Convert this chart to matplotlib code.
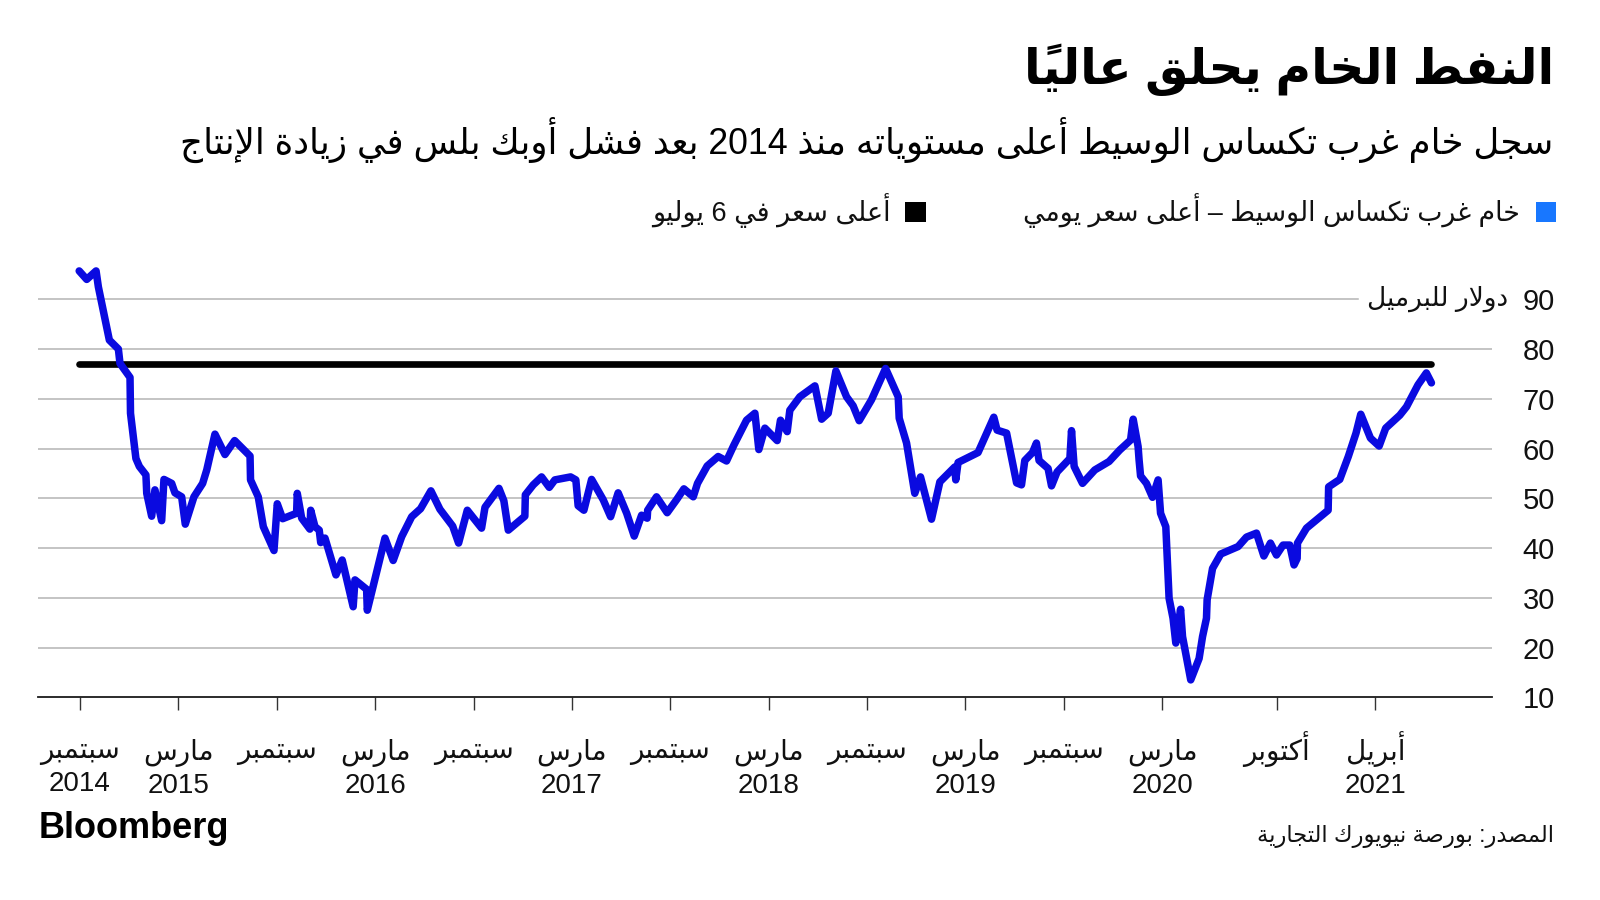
import numpy as np
import matplotlib
matplotlib.use("Agg")
import matplotlib.pyplot as plt
from matplotlib.patches import Rectangle
from matplotlib.transforms import ScaledTranslation

# ---------------- data (months since 1 Sep 2014, WTI daily high $/bbl) ----------------
months = [-0.05, 0.41, 0.98, 1.12, 1.79, 2.34, 2.44, 3.05, 3.08, 3.41, 3.62, 4.02, 4.07, 4.37, 4.57,
          4.98, 5.12, 5.59, 5.79, 6.20, 6.42, 6.95, 7.48, 7.73, 8.23, 8.84, 9.43, 10.37, 10.40, 10.87,
          11.18, 11.83, 12.03, 12.36, 13.21, 13.25, 13.52, 14.02, 14.07, 14.33, 14.59, 14.68, 14.94,
          15.61, 15.99, 16.66, 16.77, 17.48, 17.52, 18.60, 19.10, 19.62, 20.23, 20.77, 21.40, 21.95,
          22.73, 23.09, 23.62, 24.49, 24.70, 25.55, 25.85, 26.12, 27.13, 27.16, 27.64, 28.15, 28.62,
          28.96, 29.92, 30.24, 30.38, 30.73, 31.20, 31.91, 32.36, 32.82, 33.34, 33.80, 34.25, 34.59,
          34.62, 35.16, 35.81, 36.38, 36.83, 37.40, 37.66, 38.25, 38.92, 39.43, 39.88, 40.65, 41.16,
          41.40, 41.77, 42.52, 42.72, 43.13, 43.29, 43.90, 44.82, 45.23, 45.63, 46.10, 46.75, 47.15,
          47.52, 48.27, 49.13, 49.90, 49.96, 50.41, 50.91, 51.26, 51.93, 52.44, 53.35, 53.41, 53.55,
          54.77, 55.73, 55.93, 56.51, 57.12, 57.42, 57.62, 58.09, 58.33, 58.49, 59.04, 59.25, 59.59,
          60.37, 60.47, 60.63, 61.14, 61.89, 62.76, 63.41, 64.07, 64.23, 64.53, 64.59, 64.68, 65.04,
          65.41, 65.75, 65.90, 66.22, 66.42, 66.66, 66.83, 67.12, 67.24, 67.74, 68.25, 68.46, 68.70,
          68.74, 69.07, 69.57, 70.63, 71.14, 71.75, 72.20, 72.60, 72.97, 73.37, 73.78, 74.04, 74.23,
          74.25, 74.80, 76.12, 76.15, 76.83, 77.35, 77.82, 78.11, 78.70, 79.23, 79.63, 80.49, 80.90,
          81.60, 82.11, 82.42]
prices = [95.7, 94.0, 95.7, 92.5, 81.8, 80.0, 77.1, 74.3, 67.1, 58.0, 56.4, 54.7, 51.0, 46.4, 51.7,
          45.5, 53.8, 53.0, 51.1, 50.3, 44.8, 50.3, 53.0, 55.7, 62.9, 58.8, 61.6, 58.5, 53.7, 50.3,
          44.3, 39.5, 48.9, 45.9, 47.0, 51.0, 46.0, 43.8, 47.6, 44.3, 43.6, 41.1, 42.0,
          34.6, 37.6, 28.2, 33.6, 31.7, 27.5, 42.0, 37.5, 42.3, 46.3, 47.9, 51.5, 47.8,
          44.4, 41.0, 47.6, 44.0, 48.2, 52.0, 49.5, 43.6, 46.4, 50.7, 52.7, 54.3, 52.2,
          53.7, 54.3, 53.7, 48.5, 47.6, 53.8, 49.7, 46.3, 51.1, 47.0, 42.4, 46.6, 46.0,
          47.6, 50.3, 47.1, 49.7, 51.9, 50.3, 53.0, 56.5, 58.4, 57.5, 60.7, 65.7, 67.1,
          59.8, 64.1, 61.6, 65.7, 63.4, 67.7, 70.4, 72.6, 65.9, 67.1, 75.6, 70.4, 68.6,
          65.6, 69.8, 76.1, 70.4, 66.1, 61.1, 51.0, 54.3, 45.8, 53.3, 56.3, 53.7, 57.2,
          59.2, 66.3, 63.7, 63.1, 53.1, 52.7, 57.6, 59.2, 61.1, 57.6, 56.0, 52.5, 55.3,
          58.0, 63.6, 56.4, 53.0, 55.7, 57.4, 59.7, 61.7, 65.9, 60.4, 57.7, 54.5, 53.0,
          50.2, 53.7, 47.0, 44.3, 29.9, 25.9, 20.9, 27.7, 22.2, 13.5, 17.8, 22.2, 25.9,
          29.6, 35.9, 38.8, 40.3, 42.2, 43.0, 38.4, 41.0, 38.6, 40.6, 40.6, 36.6, 37.9,
          41.0, 44.0, 47.6, 52.3, 53.8, 58.4, 63.1, 66.9, 62.1, 60.5, 64.1, 66.7, 68.4,
          72.8, 75.2, 73.2]
july6_high = 76.98

tick_months = [0, 6, 12, 18, 24, 30, 36, 42, 48, 54, 60, 66, 73, 79]
tick_labels = ["سبتمبر\n2014", "مارس\n2015", "سبتمبر", "مارس\n2016", "سبتمبر", "مارس\n2017",
               "سبتمبر", "مارس\n2018", "سبتمبر", "مارس\n2019", "سبتمبر", "مارس\n2020",
               "أكتوبر", "أبريل\n2021"]
y_ticks = [10, 20, 30, 40, 50, 60, 70, 80, 90]

title = "النفط الخام يحلق عالياً"
subtitle = "سجل خام غرب تكساس الوسيط أعلى مستوياته منذ 2014 بعد فشل أوبك بلس في زيادة الإنتاج"
legend_wti = "خام غرب تكساس الوسيط – أعلى سعر يومي"
legend_high = "أعلى سعر في 6 يوليو"
unit_label = "دولار للبرميل"
source = "المصدر: بورصة نيويورك التجارية"

# ---------------- minimal Arabic shaping + RTL ordering ----------------
ARABIC = {
    0x0621: (0xFE80, 1), 0x0622: (0xFE81, 2), 0x0623: (0xFE83, 2), 0x0624: (0xFE85, 2),
    0x0625: (0xFE87, 2), 0x0626: (0xFE89, 4), 0x0627: (0xFE8D, 2), 0x0628: (0xFE8F, 4),
    0x0629: (0xFE93, 2), 0x062A: (0xFE95, 4), 0x062B: (0xFE99, 4), 0x062C: (0xFE9D, 4),
    0x062D: (0xFEA1, 4), 0x062E: (0xFEA5, 4), 0x062F: (0xFEA9, 2), 0x0630: (0xFEAB, 2),
    0x0631: (0xFEAD, 2), 0x0632: (0xFEAF, 2), 0x0633: (0xFEB1, 4), 0x0634: (0xFEB5, 4),
    0x0635: (0xFEB9, 4), 0x0636: (0xFEBD, 4), 0x0637: (0xFEC1, 4), 0x0638: (0xFEC5, 4),
    0x0639: (0xFEC9, 4), 0x063A: (0xFECD, 4), 0x0641: (0xFED1, 4), 0x0642: (0xFED5, 4),
    0x0643: (0xFED9, 4), 0x0644: (0xFEDD, 4), 0x0645: (0xFEE1, 4), 0x0646: (0xFEE5, 4),
    0x0647: (0xFEE9, 4), 0x0648: (0xFEED, 2), 0x0649: (0xFEEF, 2), 0x064A: (0xFEF1, 4),
}
LAMALEF = {0x0622: 0xFEF5, 0x0623: 0xFEF7, 0x0625: 0xFEF9, 0x0627: 0xFEFB}


def _is_mark(c):
    return 0x064B <= ord(c) <= 0x0652


def _shape(s):
    ch = list(s)
    n = len(ch)
    out = []

    def prev_l(i):
        j = i - 1
        while j >= 0 and _is_mark(ch[j]):
            j -= 1
        return j

    def next_l(i):
        j = i + 1
        while j < n and _is_mark(ch[j]):
            j += 1
        return j

    i = 0
    while i < n:
        o = ord(ch[i])
        if o in ARABIC:
            p = prev_l(i)
            jp = p >= 0 and ord(ch[p]) in ARABIC and ARABIC[ord(ch[p])][1] == 4
            nx = next_l(i)
            if o == 0x0644 and nx < n and ord(ch[nx]) in LAMALEF:
                cl = chr(LAMALEF[ord(ch[nx])] + (1 if jp else 0))
                i = nx + 1
                while i < n and _is_mark(ch[i]):
                    cl += ch[i]
                    i += 1
                out.append(cl)
                continue
            iso, nf = ARABIC[o]
            jn = nf == 4 and nx < n and ord(ch[nx]) in ARABIC and ARABIC[ord(ch[nx])][1] >= 2
            if nf == 1:
                g = iso
            elif jp and jn:
                g = iso + 3
            elif jp:
                g = iso + 1
            elif jn:
                g = iso + 2
            else:
                g = iso
            cl = chr(g)
            i += 1
            while i < n and _is_mark(ch[i]):
                cl += ch[i]
                i += 1
            out.append(cl)
        else:
            out.append(ch[i])
            i += 1
    return out


def ar(s):
    lines = []
    for line in s.split("\n"):
        runs = []
        for cl in _shape(line):
            ltr = cl[0].isascii() and cl[0].isalnum()
            if ltr and runs and runs[-1][0]:
                runs[-1][1].append(cl)
            else:
                runs.append([ltr, [cl]])
        lines.append("".join("".join(r[1]) for r in reversed(runs)))
    return "\n".join(lines)


# ---------------- figure ----------------
FAM = ["Liberation Sans", "DejaVu Sans"]
plt.rcParams["font.family"] = FAM
W, H = 1600, 900
fig = plt.figure(figsize=(16, 9), dpi=100)
fig.patch.set_facecolor("white")


def fx(px):
    return px / W


def fy(py):
    return 1 - py / H


ax_left, ax_right, ax_bottom = 38.3, 1492.3, 697.3
px_per_unit = 4.975
y_top_val = 100
ax_top = ax_bottom - (y_top_val - 10) * px_per_unit
ax = fig.add_axes([fx(ax_left), fy(ax_bottom), (ax_right - ax_left) / W, (ax_bottom - ax_top) / H])
px_per_month = 16.397
x0_px = 80.0
ax.set_xlim((ax_left - x0_px) / px_per_month, (ax_right - x0_px) / px_per_month)
ax.set_ylim(10, y_top_val)

for s in ["top", "left", "right"]:
    ax.spines[s].set_visible(False)
ax.spines["bottom"].set_color("#1a1a1a")
ax.spines["bottom"].set_linewidth(1.3)

# gridlines
for v in y_ticks[1:]:
    xmax = (1358 - ax_left) / (ax_right - ax_left) if v == 90 else 1.0
    ax.axhline(v, xmin=0, xmax=xmax, color="#b4b4b4", lw=1.1, zorder=1)

# series
ax.hlines(july6_high, months[0], months[-1], color="black", lw=4.8, capstyle="round", zorder=2)
ax.plot(months, prices, color="#0a0ae0", lw=5.4, solid_joinstyle="round",
        solid_capstyle="round", zorder=3)

# x ticks
ax.set_xticks(tick_months)
ax.set_xticklabels([ar(t) for t in tick_labels], fontsize=20, linespacing=1.3,
                   color="#111111")
ax.tick_params(axis="x", length=9, width=1, color="#333333", pad=21)
# labels whose first word starts with a hamza-alef are measured taller; lift them to line up
for lab, raw in zip(ax.get_xticklabels(), tick_labels):
    if raw.startswith("أ"):
        lab.set_transform(lab.get_transform() + ScaledTranslation(0, 6 / 72, fig.dpi_scale_trans))

# y ticks on right
ax.yaxis.tick_right()
ax.set_yticks(y_ticks)
ax.set_yticklabels([str(v) for v in y_ticks], fontsize=21, color="#111111")
ax.tick_params(axis="y", length=0, pad=45)
for lab in ax.get_yticklabels():
    lab.set_horizontalalignment("right")

ax.text((1508 - ax_left) / (ax_right - ax_left), 90, ar(unit_label), transform=ax.get_yaxis_transform(),
        ha="right", va="center", fontsize=19, color="#111111", clip_on=False)

# ---------------- titles ----------------
fig.text(fx(1554), fy(70), ar(title), ha="right", va="center", fontsize=35,
         fontweight="bold", color="black", family=FAM)
fig.text(fx(1553), fy(140), ar(subtitle), ha="right", va="center", fontsize=25.7,
         color="black", family=FAM)

# legend
fig.add_artist(Rectangle((fx(1536), fy(222)), 20 / W, 20 / H, transform=fig.transFigure,
                         facecolor="#1877ff", edgecolor="none"))
fig.text(fx(1520), fy(211), ar(legend_wti), ha="right", va="center", fontsize=19.3,
         color="#111111", family=FAM)
fig.add_artist(Rectangle((fx(905), fy(222)), 21 / W, 20 / H, transform=fig.transFigure,
                         facecolor="black", edgecolor="none"))
fig.text(fx(891), fy(211), ar(legend_high), ha="right", va="center", fontsize=19.5,
         color="#111111", family=FAM)

# footer
fig.text(fx(39), fy(829), "Bloomberg", ha="left", va="center", fontsize=26,
         fontweight="bold", color="black", family=FAM)
fig.text(fx(1554), fy(836), ar(source), ha="right", va="center", fontsize=16.3,
         color="#111111", family=FAM)

fig.savefig("out.png", dpi=100, facecolor="white")
